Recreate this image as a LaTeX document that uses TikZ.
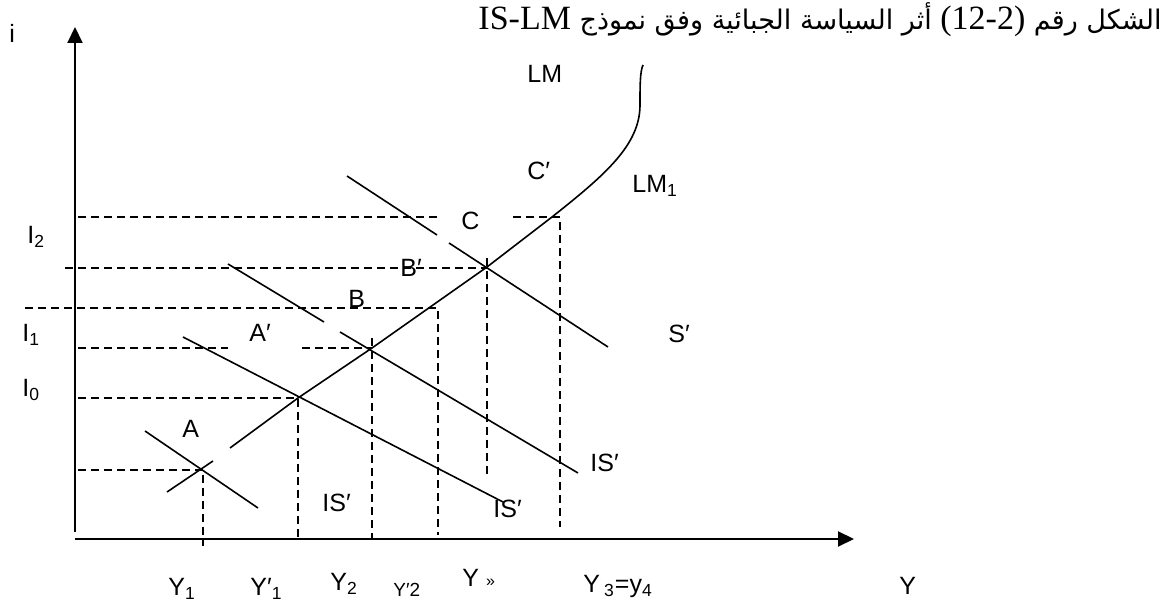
\documentclass[tikz,border=0pt]{standalone}
\usepackage{fontspec}
\setmainfont{Liberation Sans}
\newfontfamily\serifttl{Liberation Serif}
\newfontfamily\arabicfont[Script=Arabic]{DejaVu Sans}
\TeXXeTstate=1
\usetikzlibrary{arrows.meta}

\begin{document}
\begin{tikzpicture}[
    x=0.5pt, y=-0.5pt,
    axis/.style={line width=1pt, -{Triangle[length=8pt, width=7.5pt]}},
    curve/.style={line width=0.8pt},
    guide/.style={line width=0.75pt, dash pattern=on 4pt off 2.5pt},
    lbl/.style={anchor=base west, inner sep=0pt, font=\fontsize{12.5}{14}\selectfont},
    small/.style={lbl, font=\fontsize{9.5}{11}\selectfont}
]
    \useasboundingbox (0,0) rectangle (1168,603);

    % axes
    \coordinate (o) at (75,539);
    \coordinate (ibot) at (75,532);
    \coordinate (itop) at (75,27);
    \coordinate (yend) at (854,539);
    \draw [axis] (ibot) -- (itop);
    \draw [axis] (o) -- (yend);

    % equilibrium points
    \coordinate (pA) at (203,470);
    \coordinate (p0) at (298,398);
    \coordinate (p1) at (372,348);
    \coordinate (pB) at (438,308);
    \coordinate (p2) at (487,267);
    \coordinate (pC) at (560,217);

    % LM
    \coordinate (lma) at (167,492);
    \coordinate (lmb) at (213,461);
    \coordinate (lmc) at (230,448);
    \coordinate (lmd) at (552,217);
    \coordinate (lmtop) at (643,65);
    \draw [curve] (lma) -- (lmb);
    \draw [curve] (lmc) -- (p0) -- (p1) -- (p2) -- (lmd)
        .. controls (605,175) and (640,145) .. (640,105)
        .. controls (640,85) and (640,72) .. (lmtop);

    % IS
    \coordinate (is0a) at (145,431);
    \coordinate (is0b) at (258,508);
    \draw [curve] (is0a) -- (is0b);
    \coordinate (is1a) at (183,337);
    \coordinate (is1b) at (503,502);
    \draw [curve] (is1a) -- (is1b);
    \coordinate (is2a) at (228,264);
    \coordinate (is2b) at (324,322);
    \coordinate (is2c) at (340,332);
    \coordinate (is2d) at (578,473);
    \draw [curve] (is2a) -- (is2b);
    \draw [curve] (is2c) -- (is2d);
    \coordinate (is3a) at (347,176);
    \coordinate (is3b) at (437,235);
    \coordinate (is3c) at (449,243);
    \coordinate (is3d) at (608,347);
    \draw [curve] (is3a) -- (is3b);
    \draw [curve] (is3c) -- (is3d);

    % guides
    \coordinate (g1a) at (78,217);
    \coordinate (g1b) at (437,217);
    \coordinate (g1c) at (513,217);
    \coordinate (g1d) at (560,527);
    \draw [guide] (g1a) -- (g1b);
    \draw [guide] (g1c) -- (pC) -- (g1d);
    \coordinate (g2a) at (65,268);
    \coordinate (g2b) at (487,258);
    \coordinate (g2c) at (487,475);
    \draw [guide] (g2a) -- (p2 |- g2a);
    \draw [guide] (g2b) -- (g2c);
    \coordinate (g3a) at (25,308);
    \coordinate (g3b) at (438,535);
    \draw [guide] (g3a) -- (pB) -- (g3b);
    \coordinate (g4a) at (78,348);
    \coordinate (g4b) at (228,348);
    \coordinate (g4c) at (302,348);
    \coordinate (g4d) at (372,338);
    \coordinate (g4e) at (372,539);
    \draw [guide] (g4a) -- (g4b);
    \draw [guide] (g4c) -- (p1);
    \draw [guide] (g4d) -- (g4e);
    \coordinate (g5a) at (78,398);
    \coordinate (g5b) at (298,540);
    \draw [guide] (g5a) -- (p0) -- (g5b);
    \coordinate (g6a) at (78,470);
    \coordinate (g6b) at (203,546);
    \draw [guide] (g6a) -- (pA) -- (g6b);

    % title
    \node [anchor=base east, inner sep=0pt, font=\arabicfont\fontsize{13.5}{16}\selectfont] (title) at (1162,30)
        {\beginR الشكل رقم \beginL{\serifttl\fontsize{17}{20}\selectfont (12-2)}\endL{} أثر السياسة الجبائية وفق نموذج \beginL{\serifttl\fontsize{17}{20}\selectfont IS-LM}\endL\endR};

    % labels
    \node [lbl] (li) at (9,43) {i};
    \node [lbl] (lI2) at (27,244) {I\textsubscript{2}};
    \node [lbl] (lI1) at (22,342) {I\textsubscript{1}};
    \node [lbl] (lI0) at (22,397) {I\textsubscript{0}};
    \node [lbl] (lA) at (182,438) {A};
    \node [lbl] (lA1) at (249,342) {A′};
    \node [lbl] (lB) at (348,308) {B};
    \node [lbl] (lB1) at (400,277) {B′};
    \node [lbl] (lC) at (461,230) {C};
    \node [lbl] (lC1) at (527,180) {C′};
    \node [lbl] (lLM) at (527,83) {LM};
    \node [lbl] (lLM1) at (632,193) {LM\textsubscript{1}};
    \node [lbl] (lS) at (668,343) {S′};
    \node [lbl] (lIS2) at (590,472) {IS′};
    \node [lbl] (lIS1) at (493,518) {IS′};
    \node [lbl] (lIS0) at (322,512) {IS′};
    \node [lbl] (lY1) at (168,596) {Y\textsubscript{1}};
    \node [lbl] (lY11) at (250,596) {Y′\textsubscript{1}};
    \node [lbl] (lY2) at (330,591) {Y\textsubscript{2}};
    \node [small] (lY21) at (393,597) {Y′2};
    \node [lbl] (lYs) at (462,587) {Y {\fontsize{8}{9}\selectfont »}};
    \node [lbl] (lY3) at (583,593) {Y\,\textsubscript{3}=y\textsubscript{4}};
    \node [lbl] (lY) at (899,595) {Y};
\end{tikzpicture}
\end{document}
